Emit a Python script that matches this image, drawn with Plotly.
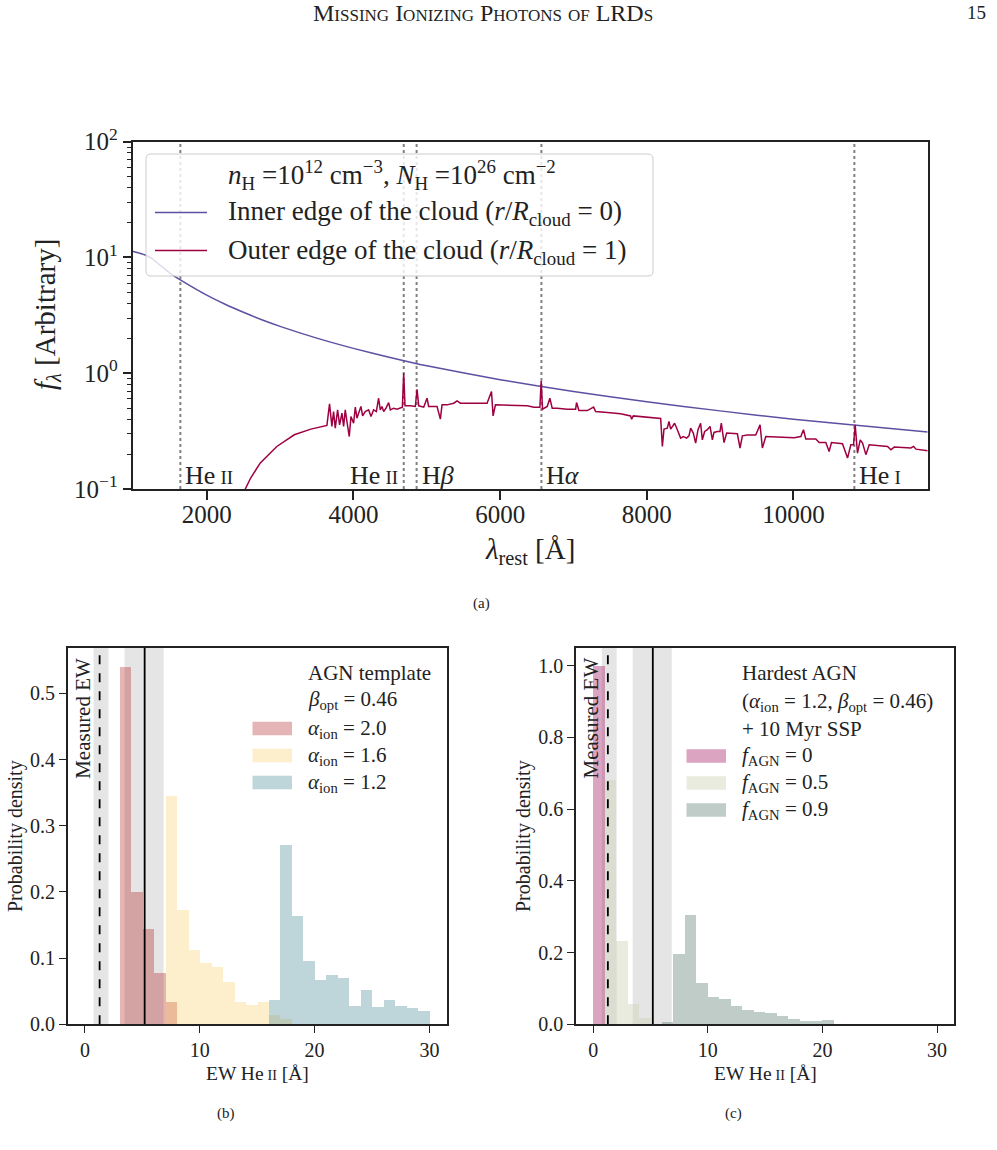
import plotly.graph_objects as go

W, H = 997, 1150
FONT = "Liberation Serif"

# ---------------- Panel (a) data ----------------
inner_wave = [990, 1080, 1160, 1250, 1360, 1500, 1640, 2000, 2250, 2500, 2750, 3000, 3500,
              4000, 4500, 5000, 6000, 7000, 8000, 9000, 10000, 11000, 11830]
inner_flux = [11.3, 10.9, 10.5, 9.8, 8.6, 7.3, 6.4, 4.72, 3.94, 3.36, 2.90, 2.54, 2.01,
              1.64, 1.37, 1.16, 0.88, 0.695, 0.566, 0.473, 0.40, 0.348, 0.31]

outer_wave = [2450, 2523, 2600, 2730, 2955, 3193, 3420, 3638, 3674, 3706, 3729, 3752, 3784,
              3811, 3843, 3866, 3888, 3911, 3943, 3966, 4002, 4025, 4048, 4070, 4102, 4125,
              4161, 4207, 4239, 4275, 4312, 4343, 4366, 4389, 4412, 4444, 4480, 4503, 4548,
              4594, 4667, 4685, 4703, 4776, 4844, 4867, 4890, 4958, 5003, 5026, 5140, 5185,
              5208, 5276, 5367, 5413, 5458, 5822, 5882, 5904, 5936, 6369, 6460, 6542, 6560,
              6578, 6642, 6678, 6710, 6778, 6915, 7029, 7042, 7074, 7188, 7275, 7302, 7461,
              7643, 7779, 7793, 7816, 8007, 8189, 8212, 8234, 8279, 8302, 8325, 8347, 8379,
              8416, 8461, 8498, 8543, 8575, 8598, 8634, 8666, 8698, 8734, 8757, 8789, 8825,
              8862, 8894, 8916, 8962, 8998, 9016, 9053, 9089, 9167, 9235, 9271, 9303, 9371,
              9485, 9544, 9576, 9622, 10009, 10100, 10136, 10168, 10304, 10350, 10441, 10486,
              10518, 10668, 10737, 10782, 10819, 10841, 10873, 10910, 10942, 10987, 11033,
              11283, 11328, 11374, 11601, 11638, 11670, 11830]
outer_flux = [0.08, 0.099, 0.125, 0.168, 0.233, 0.294, 0.329, 0.354, 0.544, 0.347, 0.467, 0.335,
              0.483, 0.358, 0.452, 0.347, 0.483, 0.383, 0.284, 0.423, 0.370, 0.509, 0.409,
              0.452, 0.516, 0.428, 0.467, 0.483, 0.423, 0.483, 0.467, 0.608, 0.483, 0.516,
              0.467, 0.499, 0.558, 0.483, 0.499, 0.489, 0.509, 1.00, 0.523, 0.523, 0.516,
              0.727, 0.523, 0.509, 0.608, 0.516, 0.516, 0.401, 0.533, 0.533, 0.551, 0.577,
              0.551, 0.551, 0.695, 0.428, 0.533, 0.523, 0.509, 0.509, 0.858, 0.489, 0.516,
              0.608, 0.499, 0.499, 0.489, 0.489, 0.558, 0.476, 0.476, 0.510, 0.467, 0.458,
              0.446, 0.428, 0.401, 0.428, 0.417, 0.406, 0.233, 0.329, 0.335, 0.383, 0.329,
              0.347, 0.370, 0.325, 0.275, 0.284, 0.275, 0.288, 0.335, 0.304, 0.249, 0.325,
              0.370, 0.266, 0.314, 0.325, 0.347, 0.266, 0.308, 0.314, 0.314, 0.370, 0.252,
              0.304, 0.304, 0.300, 0.226, 0.288, 0.292, 0.292, 0.358, 0.226, 0.284, 0.277,
              0.284, 0.325, 0.270, 0.270, 0.252, 0.252, 0.211, 0.252, 0.246, 0.185, 0.241,
              0.241, 0.358, 0.204, 0.266, 0.249, 0.198, 0.241, 0.233, 0.218, 0.230, 0.226,
              0.233, 0.221, 0.214]

SC = "<span style='font-size:19px'>II</span>"
line_wave = [1640, 4686, 4861, 6563, 10830]
line_label = ["He\u2009" + SC, "He\u2009" + SC, "H<i>β</i>", "H<i>α</i>",
              "He\u2009<span style='font-size:19px'>I</span>"]
line_side = ["right", "left", "right", "right", "right"]

# ---------------- Panel (b) data ----------------
b_a20_left = [3, 4, 5, 6, 7]
b_a20_h = [0.541, 0.200, 0.145, 0.078, 0.034]
b_a16_left = [7, 8, 9, 10, 11, 12, 13, 14, 15, 16, 17]
b_a16_h = [0.346, 0.173, 0.112, 0.093, 0.087, 0.065, 0.034, 0.029, 0.034, 0.014, 0.008]
b_a12_left = [16, 17, 18, 19, 20, 21, 22, 23, 24, 25, 26, 27, 28, 29]
b_a12_h = [0.037, 0.272, 0.164, 0.096, 0.067, 0.075, 0.070, 0.028, 0.052, 0.026, 0.037,
           0.028, 0.025, 0.020]

# ---------------- Panel (c) data ----------------
c_f0_left = [0]
c_f0_h = [1.0]
c_f05_left = [1, 2, 3, 4]
c_f05_h = [0.682, 0.232, 0.057, 0.019]
c_f09_left = [6, 7, 8, 9, 10, 11, 12, 13, 14, 15, 16, 17, 18, 19, 20]
c_f09_h = [0.006, 0.196, 0.305, 0.116, 0.077, 0.071, 0.051, 0.040, 0.034, 0.032, 0.023,
           0.015, 0.010, 0.010, 0.012]

# measured EWs (dashed / solid) with uncertainty bands
meas_ew = [1.28, 5.2]
meas_lo = [0.75, 3.45]
meas_hi = [2.05, 6.85]
meas_dash = ["dash", "solid"]

BLUE = "#5e4fa2"
RED = "#9e0142"
C_A20 = "rgba(172,15,20,0.31)"
C_A16 = "rgba(250,200,90,0.31)"
C_A12 = "rgba(45,123,136,0.31)"
C_F0 = "rgba(175,53,115,0.45)"
C_F05 = "rgba(206,211,182,0.45)"
C_F09 = "rgba(115,142,133,0.45)"
GRAYBAND = "#e5e5e5"
TXT = "#222"


def px(x):
    return x / W


def py(y):
    return 1 - y / H


fig = go.Figure()

fig.add_trace(go.Scatter(x=inner_wave, y=inner_flux, mode="lines",
                         line=dict(color=BLUE, width=1.5, shape="spline", smoothing=0.6),
                         xaxis="x", yaxis="y", showlegend=False))
fig.add_trace(go.Scatter(x=outer_wave, y=outer_flux, mode="lines",
                         line=dict(color=RED, width=1.5), xaxis="x", yaxis="y",
                         showlegend=False))


def add_hist(left, h, color, xa, ya):
    fig.add_trace(go.Bar(x=[l + 0.5 for l in left], y=h, width=1.0,
                         marker=dict(color=color, line=dict(width=0)),
                         xaxis=xa, yaxis=ya, showlegend=False))


add_hist(b_a20_left, b_a20_h, C_A20, "x2", "y2")
add_hist(b_a16_left, b_a16_h, C_A16, "x2", "y2")
add_hist(b_a12_left, b_a12_h, C_A12, "x2", "y2")
add_hist(c_f0_left, c_f0_h, C_F0, "x3", "y3")
add_hist(c_f05_left, c_f05_h, C_F05, "x3", "y3")
add_hist(c_f09_left, c_f09_h, C_F09, "x3", "y3")

shapes = []
annotations = []

# vertical dotted lines in panel (a)
for w, lab, side in zip(line_wave, line_label, line_side):
    shapes.append(dict(type="line", xref="x", yref="y domain", x0=w, x1=w, y0=0, y1=1,
                       line=dict(color="#808080", width=2, dash="dot"), layer="below"))
    annotations.append(dict(x=w, y=py(475), xref="x", yref="paper", text=lab,
                            showarrow=False, xanchor="left" if side == "right" else "right",
                            xshift=3 if side == "right" else -4, yanchor="middle",
                            font=dict(family=FONT, size=26, color=TXT)))

# bands + measured lines in (b) and (c)
for xa, ya in [("x2", "y2"), ("x3", "y3")]:
    for ew, lo, hi, d in zip(meas_ew, meas_lo, meas_hi, meas_dash):
        shapes.append(dict(type="rect", xref=xa, yref=ya + " domain", x0=lo, x1=hi, y0=0, y1=1,
                           fillcolor=GRAYBAND, line=dict(width=0), layer="below"))
        shapes.append(dict(type="line", xref=xa, yref=ya + " domain", x0=ew, x1=ew, y0=0, y1=1,
                           line=dict(color="black", width=1.8, dash=d), layer="above"))

# legend box panel (a) (rounded)
x0, x1, y0, y1, r = 146, 653, 154, 276, 5
path = (f"M {px(x0 + r)},{py(y0)} L {px(x1 - r)},{py(y0)} Q {px(x1)},{py(y0)} {px(x1)},{py(y0 + r)} "
        f"L {px(x1)},{py(y1 - r)} Q {px(x1)},{py(y1)} {px(x1 - r)},{py(y1)} "
        f"L {px(x0 + r)},{py(y1)} Q {px(x0)},{py(y1)} {px(x0)},{py(y1 - r)} "
        f"L {px(x0)},{py(y0 + r)} Q {px(x0)},{py(y0)} {px(x0 + r)},{py(y0)} Z")
shapes.append(dict(type="path", xref="paper", yref="paper", path=path,
                   fillcolor="rgba(255,255,255,0.8)", line=dict(color="#cccccc", width=1),
                   layer="above"))
for yy, col in [(212.5, BLUE), (250.5, RED)]:
    shapes.append(dict(type="line", xref="paper", yref="paper", x0=px(155), x1=px(207),
                       y0=py(yy), y1=py(yy), line=dict(color=col, width=1.5), layer="above"))

LF = dict(family=FONT, size=27, color=TXT)
annotations += [
    dict(x=px(226), y=py(175), text="<i>n</i><sub>H</sub> =10<sup>12</sup> cm<sup>−3</sup>, "
         "<i>N</i><sub>H</sub> =10<sup>26</sup> cm<sup>−2</sup>"),
    dict(x=px(226), y=py(213), text="Inner edge of the cloud (<i>r</i>/<i>R</i><sub>cloud</sub> = 0)"),
    dict(x=px(226), y=py(252), text="Outer edge of the cloud (<i>r</i>/<i>R</i><sub>cloud</sub> = 1)"),
]
for a in annotations[-3:]:
    a.update(xref="paper", yref="paper", xanchor="left", yanchor="middle", showarrow=False,
             font=LF)

# legends (b) and (c)
BF = dict(family=FONT, size=21, color=TXT)
leg_b = [
    (306, 673, "AGN template", None),
    (306, 700, "<i>β</i><sub>opt</sub> = 0.46", None),
    (306, 728.5, "<i>α</i><sub>ion</sub> = 2.0", C_A20),
    (306, 755.5, "<i>α</i><sub>ion</sub> = 1.6", C_A16),
    (306, 782.5, "<i>α</i><sub>ion</sub> = 1.2", C_A12),
]
leg_c = [
    (740, 673, "Hardest AGN", None),
    (740, 701.5, "(<i>α</i><sub>ion</sub> = 1.2, <i>β</i><sub>opt</sub> = 0.46)", None),
    (740, 729, "+ 10 Myr SSP", None),
    (740, 756, "<i>f</i><sub>AGN</sub> = 0", C_F0),
    (740, 783, "<i>f</i><sub>AGN</sub> = 0.5", C_F05),
    (740, 810, "<i>f</i><sub>AGN</sub> = 0.9", C_F09),
]
for entries in (leg_b, leg_c):
    for xx, yy, txt, col in entries:
        annotations.append(dict(x=px(xx), y=py(yy), xref="paper", yref="paper", text=txt,
                                showarrow=False, xanchor="left", yanchor="middle", font=BF))
        if col is not None:
            shapes.append(dict(type="rect", xref="paper", yref="paper",
                               x0=px(xx - 53.5), x1=px(xx - 14), y0=py(yy - 6.7), y1=py(yy + 6.7),
                               fillcolor=col, line=dict(width=0), layer="above"))

# Measured EW labels
for xa, xx in [("x2", -0.18), ("x3", -0.15)]:
    annotations.append(dict(x=xx, y=py(718), xref=xa, yref="paper", text="Measured EW",
                            textangle=-90, showarrow=False, xanchor="center", yanchor="middle",
                            font=dict(family=FONT, size=21, color=TXT)))

EWLAB = "EW He\u2009<span style='font-size:14px'>II</span> [Å]"
annotations += [
    dict(x=px(530), y=py(551), text="<i>λ</i><sub>rest</sub> [Å]",
         font=dict(family=FONT, size=29, color=TXT)),
    dict(x=px(47), y=py(315), text="<i>f</i><sub><i>λ</i></sub> [Arbitrary]", textangle=-90,
         font=dict(family=FONT, size=29, color=TXT)),
    dict(x=px(257), y=py(1073), text=EWLAB, font=dict(family=FONT, size=19.5, color=TXT)),
    dict(x=px(765), y=py(1073), text=EWLAB, font=dict(family=FONT, size=19.5, color=TXT)),
    dict(x=px(15), y=py(836), text="Probability density", textangle=-90,
         font=dict(family=FONT, size=20, color=TXT)),
    dict(x=px(523), y=py(836), text="Probability density", textangle=-90,
         font=dict(family=FONT, size=20, color=TXT)),
    dict(x=px(481), y=py(603), text="(a)", font=dict(family=FONT, size=15, color=TXT)),
    dict(x=px(226), y=py(1113), text="(b)", font=dict(family=FONT, size=15, color=TXT)),
    dict(x=px(733), y=py(1113), text="(c)", font=dict(family=FONT, size=15, color=TXT)),
    dict(x=px(483), y=py(13), text="Missing Ionizing Photons of LRDs",
         font=dict(family=FONT, size=24, color=TXT, variant="small-caps")),
    dict(x=px(976), y=py(13), text="15", font=dict(family=FONT, size=19, color=TXT)),
]
for a in annotations[-11:]:
    a.update(xref="paper", yref="paper", showarrow=False, xanchor="center", yanchor="middle")

AX = dict(showline=True, linecolor=TXT, mirror=True, showgrid=False, zeroline=False,
          ticks="outside", tickcolor=TXT, automargin=False)

minor_vals = [m * 10 ** e for e in (-1, 0, 1) for m in range(2, 10)]

fig.update_layout(
    width=W, height=H, margin=dict(l=0, r=0, t=0, b=0, pad=0, autoexpand=False),
    paper_bgcolor="white", plot_bgcolor="white", barmode="overlay", bargap=0,
    font=dict(family=FONT, color=TXT),
    xaxis=dict(AX, domain=[px(132.7), px(927.7)], anchor="y", range=[990, 11830],
               tickvals=[2000, 4000, 6000, 8000, 10000],
               ticktext=["2000", "4000", "6000", "8000", "10000"], ticklabelstandoff=-7,
               linewidth=2, ticklen=9, tickwidth=1.6, tickfont=dict(size=25, family=FONT, color=TXT)),
    yaxis=dict(AX, domain=[py(489), py(141.7)], anchor="x", type="log", range=[-1, 2],
               tickvals=[0.1, 1, 10, 100],
               ticktext=["10<sup>−1</sup>", "10<sup>0</sup>", "10<sup>1</sup>", "10<sup>2</sup>"],
               linewidth=2, ticklen=8, tickwidth=1.6, tickfont=dict(size=25, family=FONT, color=TXT),
               minor=dict(tickvals=minor_vals, ticks="outside", ticklen=4, tickwidth=1,
                          tickcolor=TXT)),
    xaxis2=dict(AX, domain=[px(67.7), px(446.7)], anchor="y2", range=[-1.5, 31.5],
                tickvals=[0, 10, 20, 30], linewidth=1.6, ticklen=7, tickwidth=1.4,
                tickfont=dict(size=20, family=FONT, color=TXT)),
    yaxis2=dict(AX, domain=[py(1024.3), py(647.7)], anchor="x2", range=[0, 0.569],
                tickvals=[0, 0.1, 0.2, 0.3, 0.4, 0.5], tickformat=".1f", linewidth=1.6,
                ticklen=7, tickwidth=1.4, tickfont=dict(size=20, family=FONT, color=TXT)),
    xaxis3=dict(AX, domain=[px(576), px(954.3)], anchor="y3", range=[-1.5, 31.5],
                tickvals=[0, 10, 20, 30], linewidth=1.6, ticklen=7, tickwidth=1.4,
                tickfont=dict(size=20, family=FONT, color=TXT)),
    yaxis3=dict(AX, domain=[py(1024.3), py(647.7)], anchor="x3", range=[0, 1.05],
                tickvals=[0, 0.2, 0.4, 0.6, 0.8, 1.0], tickformat=".1f", linewidth=1.6,
                ticklen=7, tickwidth=1.4, tickfont=dict(size=20, family=FONT, color=TXT)),
    shapes=shapes, annotations=annotations,
)

fig.write_html("out.html")
